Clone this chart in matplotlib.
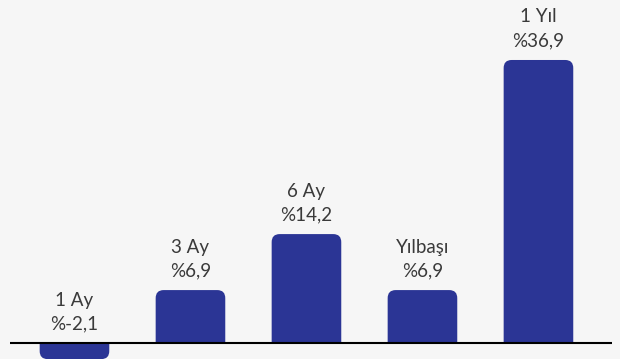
import matplotlib
matplotlib.use("Agg")
from matplotlib import pyplot as plt
from matplotlib.patches import FancyBboxPatch, Rectangle

periods = ["1 Ay", "3 Ay", "6 Ay", "Yılbaşı", "1 Yıl"]
returns = [-2.1, 6.9, 14.2, 6.9, 36.9]
value_labels = ["%-2,1", "%6,9", "%14,2", "%6,9", "%36,9"]

bg = "#f6f6f6"
bar_color = "#2b3595"
text_color = "#3a3a3a"

fig = plt.figure(figsize=(6.2, 3.59), dpi=100, facecolor=bg)
ax = fig.add_axes([0, 0, 1, 1])
ax.set_facecolor(bg)
ax.set_xlim(-0.642, 4.703)
ax.set_ylim(-2.086, 44.72)
ax.axis("off")

# pixel scale, used to keep the corners round
px_x = 1 / 116.0
px_y = 1 / 7.67
width = 0.6
radius = 8 * px_x
ext = 3.0

for i, (name, v, lab) in enumerate(zip(periods, returns, value_labels)):
    x0 = i - width / 2
    if v >= 0:
        y0, h = -ext, v + ext
        clip = Rectangle((-5, 0), 20, 100, transform=ax.transData)
    else:
        y0, h = v, -v + ext
        clip = Rectangle((-5, -100), 20, 100, transform=ax.transData)
    box = FancyBboxPatch((x0, y0), width, h,
                         boxstyle="round,pad=0,rounding_size=%f" % radius,
                         mutation_aspect=px_y / px_x,
                         facecolor=bar_color, edgecolor="none", zorder=2)
    ax.add_patch(box)
    box.set_clip_path(clip)
    top = max(v, 0)
    ax.text(i, top + 19 * px_y, lab, ha="center", va="center",
            fontsize=13.5, color=text_color, family="Lato")
    ax.text(i, top + 43 * px_y, name, ha="center", va="center",
            fontsize=13.5, color=text_color, family="Lato")

ax.plot([-0.556, 4.634], [0, 0], color="black", lw=1.5, zorder=3,
        solid_capstyle="butt")

fig.savefig("out.png", dpi=100, facecolor=bg)
